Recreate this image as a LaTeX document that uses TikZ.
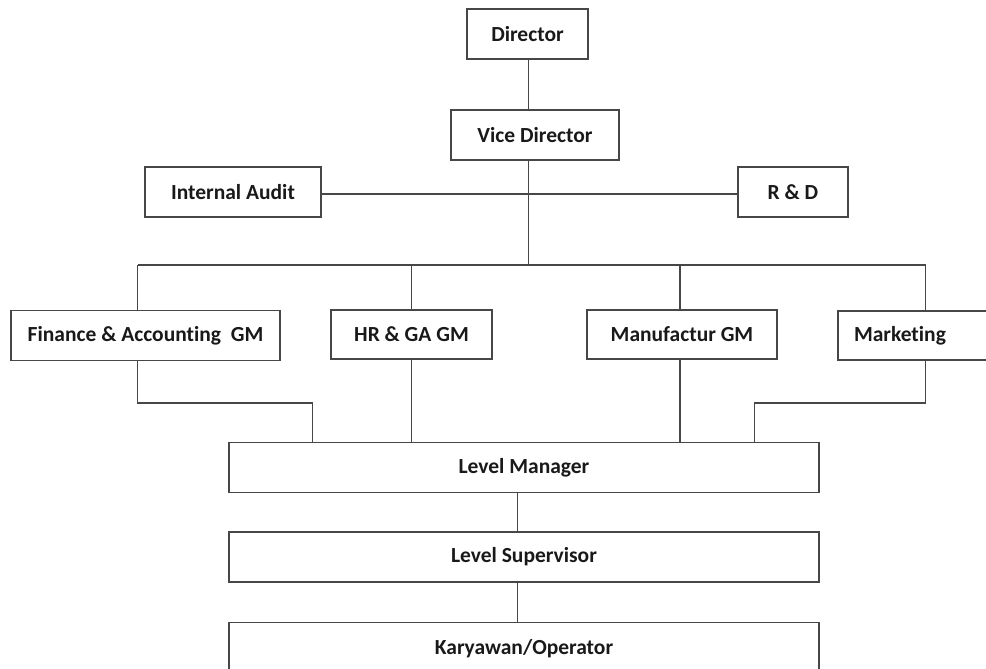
\documentclass[tikz,border=0pt]{standalone}
\usepackage{fontspec}
\setmainfont[Ligatures=NoCommon]{Carlito}
\begin{document}
\begin{tikzpicture}[x=1pt,y=-1pt,
  box/.style={draw=black!72, line width=1.4pt, rectangle, inner sep=0pt,
    text=black!90, font=\fontsize{21.5}{25}\selectfont\bfseries},
  link/.style={draw=black!72, line width=1.4pt}]
\useasboundingbox (0,0) rectangle (986,669);
% top
\node[box, minimum width=121, minimum height=50] (dir) at (527.5,34) {Director};
\node[box, minimum width=168, minimum height=50] (vice) at (535,135) {Vice Director};
\node[box, minimum width=176, minimum height=50] (audit) at (233,192) {Internal Audit};
\node[box, minimum width=110, minimum height=50] (rd) at (793,192) {R \& D};
% GMs
\node[box, minimum width=269, minimum height=50] (fin) at (145.5,335.5) {Finance \& Accounting\ \ GM};
\node[box, minimum width=161, minimum height=49] (hr) at (411.5,334.5) {HR \& GA GM};
\node[box, minimum width=190, minimum height=49] (man) at (682,334.5) {Manufactur GM};
\node[box, minimum width=172, minimum height=49, text width=140, align=left] (mkt) at (924,335.5) {Marketing};
% levels
\node[box, minimum width=590, minimum height=50] (lm) at (524,467.5) {Level Manager};
\node[box, minimum width=590, minimum height=50] (sup) at (524,557) {Level Supervisor};
\node[box, minimum width=590, minimum height=52] (kar) at (524,648.5) {Karyawan/Operator};
% coordinates
\coordinate (t1) at (528.5,194);
\coordinate (t2) at (528.5,265);
\coordinate (bl) at (137.7,265);
\coordinate (br) at (925.5,265);
% connectors
\draw[link] (dir.south -| t1) -- (vice.north -| t1);
\draw[link] (vice.south -| t1) -- (t2);
\draw[link] (audit.east |- t1) -- (rd.west |- t1);
\draw[link] (bl) -- (br);
\draw[link] (bl) -- (bl |- fin.north);
\draw[link] (411.7,265) -- (411.7,0 |- hr.north);
\draw[link] (680,265) -- (680,0 |- man.north);
\draw[link] (br) -- (br |- mkt.north);
\draw[link] (137.7,0 |- fin.south) -- (137.7,403) -- (312.3,403) -- (312.3,0 |- lm.north);
\draw[link] (411.7,0 |- hr.south) -- (411.7,0 |- lm.north);
\draw[link] (680,0 |- man.south) -- (680,0 |- lm.north);
\draw[link] (925.5,0 |- mkt.south) -- (925.5,403) -- (754.3,403) -- (754.3,0 |- lm.north);
\draw[link] (517.5,0 |- lm.south) -- (517.5,0 |- sup.north);
\draw[link] (517.5,0 |- sup.south) -- (517.5,0 |- kar.north);
\end{tikzpicture}
\end{document}
